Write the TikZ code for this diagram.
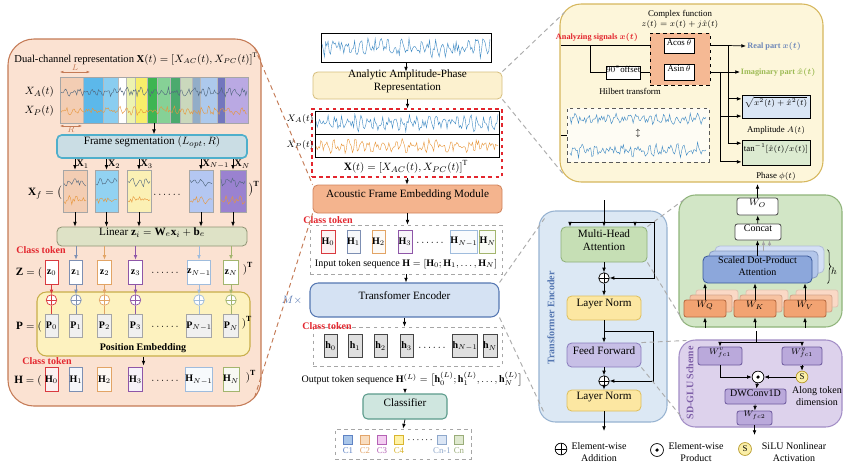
\documentclass[tikz,border=0pt]{standalone}
\usepackage{amsmath,amssymb}
\usepackage{fontspec}
\setmainfont{Liberation Serif}
\usepackage{xcolor}
\usepackage{tikz}
\usetikzlibrary{arrows.meta,positioning,fit,backgrounds,calc,decorations.pathreplacing}
% panels and boxes
\definecolor{lpFill}{HTML}{FBE2D2}\definecolor{lpDraw}{HTML}{C47A55}
\definecolor{segFill}{HTML}{CADDE4}\definecolor{segDraw}{HTML}{4FAFCB}
\definecolor{linFill}{HTML}{DEE2C6}\definecolor{linDraw}{HTML}{8F9474}
\definecolor{peFill}{HTML}{FDF2BF}\definecolor{peDraw}{HTML}{C8AE4A}
\definecolor{clsRed}{HTML}{E3262E}
\definecolor{tkRed}{HTML}{D93A3F}\definecolor{tkBlue}{HTML}{7D8FB3}
\definecolor{tkOrange}{HTML}{E2A465}\definecolor{tkPurple}{HTML}{8E56A8}
\definecolor{tkLBlue}{HTML}{9FBCDD}\definecolor{tkOlive}{HTML}{A3B56E}
\definecolor{apFill}{HTML}{FCF1CF}\definecolor{apDraw}{HTML}{D7BE7E}
\definecolor{afFill}{HTML}{F4B48E}\definecolor{afDraw}{HTML}{D0835B}
\definecolor{teFill}{HTML}{D5E2F3}\definecolor{teDraw}{HTML}{5577B2}
\definecolor{clfFill}{HTML}{CFE6DF}\definecolor{clfDraw}{HTML}{5B9B8B}
\definecolor{ypFill}{HTML}{FDF6DA}\definecolor{ypDraw}{HTML}{D6B75D}
\definecolor{hbFill}{HTML}{F5B994}
\definecolor{ampFill}{HTML}{DAE6F5}\definecolor{phFill}{HTML}{DCEBD1}
\definecolor{realC}{HTML}{6C86B8}\definecolor{imagC}{HTML}{9DBB55}
\definecolor{encFill}{HTML}{DCE8F4}\definecolor{encDraw}{HTML}{97B3D1}
\definecolor{mhaFill}{HTML}{C6DFB5}\definecolor{mhaDraw}{HTML}{8FB07A}
\definecolor{lnFill}{HTML}{FCE7A2}\definecolor{lnDraw}{HTML}{DDBF5E}
\definecolor{ffFill}{HTML}{C7BFE6}\definecolor{ffDraw}{HTML}{8A7DBD}
\definecolor{gpFill}{HTML}{D2E6C6}\definecolor{gpDraw}{HTML}{8FB47A}
\definecolor{sdFill}{HTML}{8CA7DB}\definecolor{sdDraw}{HTML}{3B5A9A}
\definecolor{sdBa}{HTML}{B3C6EA}\definecolor{sdBb}{HTML}{D5E0F5}
\definecolor{wFill}{HTML}{F2A372}\definecolor{wDraw}{HTML}{B7693F}
\definecolor{wBa}{HTML}{F7C3A2}\definecolor{wBb}{HTML}{FAD9C6}
\definecolor{ppFill}{HTML}{DDD2EC}\definecolor{ppDraw}{HTML}{A28DC6}\definecolor{ppText}{HTML}{7E5FA8}
\definecolor{gluFill}{HTML}{BAA9DB}\definecolor{gluDraw}{HTML}{6E5A9E}
\definecolor{siluFill}{HTML}{FBEFA8}\definecolor{siluDraw}{HTML}{B79A2B}
\definecolor{sigBlue}{HTML}{3E8AC4}\definecolor{sigOrange}{HTML}{E8963A}\definecolor{waveDark}{HTML}{51677E}
% bands and frames
\definecolor{bandA}{HTML}{F3CDB3}\definecolor{bandB}{HTML}{5CB8EA}\definecolor{bandC}{HTML}{8ACDF0}
\definecolor{bandD}{HTML}{FFFFFF}\definecolor{bandE}{HTML}{EDF3B0}\definecolor{bandF}{HTML}{F8EE6A}
\definecolor{bandG}{HTML}{3DB552}\definecolor{bandH}{HTML}{86D196}\definecolor{bandI}{HTML}{4BAA6E}
\definecolor{bandJ}{HTML}{CAD8BC}\definecolor{bandK}{HTML}{92ADC8}\definecolor{bandL}{HTML}{ADC9EC}
\definecolor{bandM}{HTML}{7276BE}\definecolor{bandN}{HTML}{BAA9E3}
\definecolor{frA}{HTML}{F3CDB3}\definecolor{frB}{HTML}{92D2F2}\definecolor{frC}{HTML}{FBF0B4}
\definecolor{frD}{HTML}{B4C7F2}\definecolor{frE}{HTML}{9A82D0}
% class squares
\definecolor{cAf}{HTML}{A9C6EA}\definecolor{cAd}{HTML}{5F83C4}
\definecolor{cBf}{HTML}{F9DDBF}\definecolor{cBd}{HTML}{E2A56B}
\definecolor{cCf}{HTML}{F3CDF1}\definecolor{cCd}{HTML}{B562B5}
\definecolor{cDf}{HTML}{FFF2A6}\definecolor{cDd}{HTML}{D9B52F}
\definecolor{cEf}{HTML}{DBE6F5}\definecolor{cEd}{HTML}{8FA8CB}
\definecolor{cFf}{HTML}{DFE9CF}\definecolor{cFd}{HTML}{9AAD7A}
\newcommand\fmain{\fontsize{9.5}{11}\selectfont}
\newcommand\fsmall{\fontsize{8.5}{10}\selectfont}
\newcommand\ftiny{\fontsize{7.5}{8.5}\selectfont}
\newcommand\fmini{\fontsize{7}{8}\selectfont}
% noisy signal: from, to, middle, amplitude, colour
\newcommand\noisewave[5]{%
  \pgfmathtruncatemacro\nsmp{((#2)-(#1))/1.2}%
  \draw[#5,line width=0.35pt] plot[domain=#1:#2,samples=\nsmp] (\x,{#3+#4*(0.6*rand+0.4*sin(53*(\x-(#1))))});}
\tikzset{
  panel/.style={draw,rounded corners=14pt,inner sep=0pt,line width=0.9pt},
  fbox/.style={draw,rounded corners=4pt,inner sep=0pt,align=center,font=\fmain,line width=0.7pt},
  wbox/.style={fbox,rounded corners=2pt,font=\fsmall},
  tok/.style={draw,inner sep=0pt,font=\fsmall,line width=0.7pt,fill=white},
  dbox/.style={draw=gray!70,dashed,inner sep=0pt,line width=0.7pt},
  oplus/.style={circle,draw=#1,fill=white,minimum size=9pt,inner sep=0pt,line width=0.6pt,
    path picture={\draw[#1,line width=0.6pt] (path picture bounding box.north)--(path picture bounding box.south)
      (path picture bounding box.west)--(path picture bounding box.east);}},
  oplus/.default=black,
  odot/.style={circle,draw,fill=white,minimum size=10pt,inner sep=0pt,line width=0.6pt,
    path picture={\fill[black] (path picture bounding box.center) circle (1.5pt);}},
  silu/.style={circle,draw=siluDraw,fill=siluFill,minimum size=10pt,inner sep=0pt,font=\ftiny,line width=0.6pt},
  aflow/.style={-{Latex[length=1.4mm,width=1.1mm]},line width=0.6pt},
  pline/.style={line width=0.6pt},
  zoomln/.style={draw=gray!65,line width=0.8pt,dash pattern=on 4pt off 3pt},
  clstxt/.style={text=clsRed,font=\fsmall\bfseries,inner sep=0pt},
}

\begin{document}
\begin{tikzpicture}[x=0.85pt,y=-0.85pt]
\pgfmathsetseed{11}
\fill[white] (0,0) rectangle (851,468);
\useasboundingbox (0,0) rectangle (851,468);

% ---------- left panel: acoustic frame embedding
\node[panel,fill=lpFill,draw=lpDraw,rounded corners=22pt,fit={(8,39)(261,406)}] (lp) {};
\node[font=\fontsize{9}{10}\selectfont] (dtitle) at (136,59) {Dual-channel representation $\mathbf{X}(t)=[X_{AC}(t),X_{PC}(t)]^{\mathrm{T}}$};
\foreach \xa/\xb/\cl in {60/83/bandA,83/103/bandB,103/118/bandC,118/126/bandD,126/135/bandE,135/147/bandF,147/157/bandG,
  157/170/bandH,170/180/bandI,180/192/bandJ,192/200/bandK,200/217/bandL,217/225/bandM,225/248/bandN}
  \fill[\cl] (\xa,77) rectangle (\xb,123);
\foreach \xs in {83,103,118,126,135,147,157,170,180,192,200,217,225}
  \draw[gray!55,line width=0.3pt] (\xs,77) -- (\xs,123);
\noisewave{61}{247}{92}{5}{waveDark}
\noisewave{61}{247}{111}{5}{sigOrange}
\node[draw=gray!70,line width=0.6pt,inner sep=0pt,fit={(60,77)(248,123)}] (strip) {};
\coordinate (lLa) at (60,72); \coordinate (lLb) at (90,72);
\coordinate (lRa) at (60,126); \coordinate (lRb) at (82,126);
\draw[{Latex[length=1mm]}-{Latex[length=1mm]},lpDraw,line width=0.4pt] (lLa) -- (lLb) node[midway,above,inner sep=1pt,font=\ftiny,text=lpDraw] {$L$};
\draw[{Latex[length=1mm]}-{Latex[length=1mm]},lpDraw,line width=0.4pt] (lRa) -- (lRb) node[midway,below,inner sep=0.5pt,font=\ftiny,text=lpDraw] {$R$};
\node[font=\fmain,anchor=east] (xal) at (58,92) {$X_A(t)$};
\node[font=\fmain,anchor=east] (xpl) at (58,111) {$X_P(t)$};

\node[fbox,fill=segFill,draw=segDraw,line width=1.4pt,fit={(57,135)(247,158)}] (seg) {Frame segmentation $(L_{opt},R)$};
\draw[aflow] (strip.south) -- (strip.south |- seg.north);

\node[fbox,fill=linFill,draw=linDraw,fit={(57,227)(247,246)}] (lin) {Linear $\mathbf{z}_i=\mathbf{W}_e\mathbf{x}_i+\mathbf{b}_e$};
\foreach \nm/\xa/\xb/\cl/\ix in {1/63/87/frA/1,2/95/118/frB/2,3/127/151/frC/3,m/189/213/frD/{N-1},n/220/246/frE/N} {
  \node[draw=gray!70,fill=\cl,inner sep=0pt,fit={(\xa,170)(\xb,212)}] (fr\nm) {};
  \noisewave{\xa+1}{\xb-1}{182}{5}{waveDark}
  \noisewave{\xa+1}{\xb-1}{200}{5}{sigOrange}
  \draw[aflow] (seg.south -| fr\nm) -- (fr\nm.north) node[midway,right,inner sep=1pt,font=\fsmall] {$\mathbf{X}_{\ix}$};
  \draw[aflow] (fr\nm.south) -- (fr\nm.south |- lin.north);
}
\node[font=\fmain] (xfeq) at (45,193) {$\mathbf{X}_f=\big($};
\node[font=\fmain] (xfdots) at (168,195) {$\cdots\cdots$};
\node[font=\fmain] (xfend) at (254,189) {$\big)^{\mathbf{T}}$};

\node[clstxt] (clsa) at (41,250) {Class token};
\node[fbox,fill=peFill,draw=peDraw,line width=0.9pt,rounded corners=8pt,fit={(37,292)(250,356)}] (pe) {};
\node[font=\fsmall\bfseries] (pelbl) at (143,348) {Position Embedding};
\foreach \nm/\xc/\tw/\cl/\ix in {0/51.5/11pt/tkRed/0,1/76/11pt/tkBlue/1,2/104.5/12pt/tkOrange/2,
  3/135.5/12pt/tkPurple/3,m/199/19pt/tkLBlue/{N-1},n/231/13pt/tkOlive/N} {
  \node[tok,draw=\cl,minimum width=\tw,minimum height=21pt] (z\nm) at (\xc,272.5) {$\mathbf{z}_{\ix}$};
  \node[oplus=\cl] (ps\nm) at (\xc,300) {};
  \node[tok,fill=gray!12,draw=gray!70,minimum width=\tw,minimum height=20pt] (p\nm) at (\xc,326) {$\mathbf{P}_{\ix}$};
  \node[tok,draw=\cl,fill=\cl!8,minimum width=\tw,minimum height=21pt] (hl\nm) at (\xc,379.5) {$\mathbf{H}_{\ix}$};
  \draw[aflow,\cl] (z\nm) -- (ps\nm);
  \draw[pline,\cl] (p\nm) -- (ps\nm);
}
\foreach \nm/\cl in {1/tkBlue,2/tkOrange,3/tkPurple,m/tkLBlue,n/tkOlive}
  \draw[aflow,\cl] (lin.south -| z\nm) -- (z\nm.north);
\node[font=\fmain] (zeq) at (29,273) {$\mathbf{Z}=($};
\node[font=\fmain] (zdots) at (166,273) {$\cdots\cdots$};
\node[font=\fmain] (zend) at (248,269) {$)^{\mathbf{T}}$};
\node[font=\fmain] (peq) at (29,327) {$\mathbf{P}=($};
\node[font=\fmain] (pdots) at (166,327) {$\cdots\cdots$};
\node[font=\fmain] (pend) at (247,323) {$)^{\mathbf{T}}$};
\draw[aflow] (pe.south) -- ++(0,9) coordinate (peout);
\node[clstxt] (clsb) at (47,361) {Class token};
\node[font=\fmain] (heq) at (28,381) {$\mathbf{H}=($};
\node[font=\fmain] (hdots) at (166,381) {$\cdots\cdots$};
\node[font=\fmain] (hend) at (251,377) {$)^{\mathbf{T}}$};

% ---------- middle column
\node[draw,line width=0.8pt,inner sep=0pt,fit={(321,33)(491,62)}] (sig) {};
\noisewave{322}{490}{47.5}{11}{sigBlue}
\node[fbox,fill=apFill,draw=apDraw,fit={(313,72)(502,99)}] (ap) {Analytic Amplitude-Phase\\Representation};
\node[draw=clsRed,dashed,line width=0.9pt,inner sep=0pt,fit={(312,109)(502,177)}] (xbox) {};
\node[draw,line width=0.8pt,inner sep=0pt,fit={(315,111)(499,157)}] (xsig) {};
\draw[pline] (xsig.west) -- (xsig.east);
\noisewave{316}{498}{123}{9}{sigBlue}
\noisewave{316}{498}{146}{8}{sigOrange}
\node[font=\fmain] (xform) at (406,167) {$\mathbf{X}(t)=[X_{AC}(t),X_{PC}(t)]^{\mathrm{T}}$};
\node[font=\fsmall,anchor=east,inner sep=1pt] (xalm) at (315,119) {$X_A(t)$};
\node[font=\fsmall,anchor=east,inner sep=1pt] (xplm) at (315,145) {$X_P(t)$};
\node[fbox,fill=afFill,draw=afDraw,fit={(313,185)(502,213)}] (afem) {Acoustic Frame Embedding Module};
\draw[aflow] (sig.south) -- (sig.south |- ap.north);
\draw[aflow] (ap.south) -- (ap.south |- xbox.north);
\draw[aflow] (xbox.south) -- (xbox.south |- afem.north);

\node[dbox,fit={(310,225)(502,274)}] (inbox) {};
\node[clstxt] (clsc) at (328,220) {Class token};
\foreach \nm/\xc/\tw/\cl/\ix in {0/328/12pt/tkRed/0,1/353.5/11pt/tkBlue/1,2/378.5/11pt/tkOrange/2,
  3/405/12pt/tkPurple/3,m/464/19pt/tkLBlue/{N-1},n/487.5/13pt/tkOlive/N}
  \node[tok,draw=\cl,fill=\cl!6,minimum width=\tw,minimum height=19.5pt] (hi\nm) at (\xc,241.5) {$\mathbf{H}_{\ix}$};
\node[font=\fmain] (hidots) at (431,243) {$\cdots\cdots$};
\node[font=\fsmall] (intext) at (406,264) {Input token sequence $\mathbf{H}=[\mathbf{H}_0;\mathbf{H}_1,\ldots,\mathbf{H}_N]$};
\draw[aflow] (afem.south) -- (afem.south |- inbox.north);

\node[fbox,fill=teFill,draw=teDraw,line width=0.9pt,rounded corners=7pt,fit={(310,283)(499,317)}] (te) {Transfomer Encoder};
\node[font=\fmain,text=teDraw] (mx) at (292,300) {$M\times$};
\draw[aflow] (inbox.south) -- (inbox.south |- te.north);

\node[dbox,fit={(313,327)(502,366)}] (outbox) {};
\node[clstxt] (clsd) at (327,326) {Class token};
\foreach \nm/\xc/\tw/\ix in {0/330.5/11pt/0,1/355/12pt/1,2/380.5/11pt/2,3/406.5/11pt/3,m/465/19pt/{N-1},n/490/12pt/N}
  \node[tok,fill=gray!25,draw=gray!55!black,minimum width=\tw,minimum height=20pt] (ho\nm) at (\xc,346) {$\mathbf{h}_{\ix}$};
\node[font=\fmain] (hodots) at (433,348) {$\cdots\cdots$};
\draw[aflow] (te.south) -- (te.south |- outbox.north);
\node[font=\fsmall] (outtext) at (412,379) {Output token sequence $\mathbf{H}^{(L)}=\big[\mathbf{h}_0^{(L)};\mathbf{h}_1^{(L)},\ldots,\mathbf{h}_N^{(L)}\big]$};
\node[fbox,fill=clfFill,draw=clfDraw,line width=0.9pt,fit={(363,394)(447,419)}] (clf) {Classifier};
\draw[aflow] (outtext.south -| clf.north) -- (clf.north);
\node[dbox,fit={(335,429)(471,459)}] (clsbox) {};
\draw[aflow] (clf.south) -- (clsbox.north);
\foreach \nm/\xc/\fc/\dc/\lb in {1/348/cAf/cAd/C1,2/365/cBf/cBd/C2,3/382/cCf/cCd/C3,4/399/cDf/cDd/C4,m/442/cEf/cEd/Cn-1,n/459/cFf/cFd/Cn} {
  \node[draw=\dc,fill=\fc,minimum size=8pt,inner sep=0pt] (cq\nm) at (\xc,439.5) {};
  \node[font=\ftiny,text=\dc,inner sep=0pt] (cl\nm) at (\xc,451) {\lb};
}
\node[font=\fsmall] (cdots) at (421,440) {$\cdots\cdots$};

% ---------- top right: amplitude-phase representation
\node[panel,fill=ypFill,draw=ypDraw,rounded corners=18pt,fit={(560,4)(823,182)}] (yp) {};
\node[font=\ftiny] (cplx) at (680,14) {Complex function};
\node[font=\ftiny] (cplxf) at (680,24.5) {$z(t)=x(t)+j\hat{x}(t)$};
\node[font=\fmini\bfseries,text=clsRed] (anl) at (597,37) {Analyzing signals $\boldsymbol{x(t)}$};
\node[draw,dashed,fill=hbFill,line width=0.8pt,inner sep=0pt,fit={(650,33)(710,85)}] (hbox) {};
\node[draw,fill=white,inner sep=0pt,font=\ftiny,fit={(664,38)(694,53)}] (acos) {A$\cos\theta$};
\node[draw,fill=white,inner sep=0pt,font=\ftiny,fit={(664,64)(694,80)}] (asin) {A$\sin\theta$};
\node[draw,fill=white,inner sep=0pt,font=\ftiny,fit={(606,66)(640,79)}] (off) {$90^{\circ}$offset};
\node[font=\ftiny] (hilb) at (630,91) {Hilbert transform};
\coordinate (ain) at (561,45.5); \coordinate (abr) at (590,45.5);
\draw[pline] (ain) -- (acos.west -| hbox.west);
\draw[pline] (abr) |- (off.west);
\draw[pline] (off.east) -- (off.east -| hbox.west);
\node[font=\fmini\bfseries,text=realC,anchor=west,inner sep=1pt] (real) at (746,46) {Real part $\boldsymbol{x(t)}$};
\node[font=\fmini\bfseries,text=imagC,anchor=west,inner sep=0.5pt] (imag) at (740,72) {Imaginary part $\boldsymbol{\hat{x}(t)}$};
\node[draw,fill=ampFill,line width=0.8pt,inner sep=0pt,font=\ftiny,fit={(742,95)(810,118)}] (amp) {$\sqrt{x^2(t)+\hat{x}^2(t)}$};
\node[font=\ftiny] (ampl) at (776,130) {Amplitude $A(t)$};
\node[draw,fill=phFill,line width=0.8pt,inner sep=0pt,font=\ftiny,fit={(742,140)(810,165)}] (phase) {$\tan^{-1}[\hat{x}(t)/x(t)]$};
\node[font=\ftiny] (phl) at (776,176) {Phase $\phi(t)$};
\coordinate (ja) at (728,45.5); \coordinate (jb) at (720,72);
\coordinate (amA) at ($(amp.north west)!0.18!(amp.south west)$);
\coordinate (amB) at ($(amp.north west)!0.9!(amp.south west)$);
\coordinate (phA) at ($(phase.north west)!0.14!(phase.south west)$);
\coordinate (phB) at ($(phase.north west)!0.86!(phase.south west)$);
\draw[pline] (acos.east -| hbox.east) -- (ja);
\draw[pline] (asin.east -| hbox.east) -- (jb);
\draw[aflow] (ja) -- (real.west);
\draw[aflow] (jb) -- (imag.west);
\draw[aflow] (ja) |- (phA);
\draw[aflow] (jb) |- (phB);
\draw[aflow] (amA -| ja) -- (amA);
\draw[aflow] (amB -| jb) -- (amB);
\node[draw=gray!70!black,dashed,fill=white!70!ypFill,line width=0.7pt,inner sep=0pt,fit={(567,108)(709,162)}] (sbox) {};
\noisewave{570}{706}{119}{6}{sigBlue}
\noisewave{570}{706}{150}{8}{sigBlue}
\node[font=\ftiny,inner sep=0pt] (sarr) at (638,133) {$\updownarrow$};
\coordinate (sin) at (561,135);
\draw[pline] (sin) -- (sbox.west);

% ---------- transformer encoder
\node[panel,fill=encFill,draw=encDraw,fit={(539,211)(667,422)}] (encp) {};
\node[rotate=90,font=\fsmall\bfseries,text=teDraw] (enclbl) at (551,318) {Transformer Encoder};
\node[fbox,fill=mhaFill,draw=mhaDraw,fit={(561,227)(647,262)}] (mha) {Multi-Head\\Attention};
\node[oplus] (add1) at (604,278) {};
\node[fbox,fill=lnFill,draw=lnDraw,fit={(567,296)(641,320)}] (ln1) {Layer Norm};
\node[fbox,fill=ffFill,draw=ffDraw,fit={(567,343)(641,367)}] (ff) {Feed Forward};
\node[oplus] (add2) at (604,381) {};
\node[fbox,fill=lnFill,draw=lnDraw,fit={(567,390)(641,411)}] (ln2) {Layer Norm};
\coordinate (encin) at (604,200); \coordinate (encbr) at (604,222);
\coordinate (brl) at (570,222); \coordinate (brm) at (635,222); \coordinate (brr) at (654,222);
\draw[pline] (encin) -- (encbr);
\draw[pline] (brl) -- (brr);
\draw[aflow] (brl) -- (brl |- mha.north);
\draw[aflow] (encbr) -- (mha.north);
\draw[aflow] (brm) -- (brm |- mha.north);
\draw[aflow] (brr) |- (add1.east);
\draw[aflow] (mha) -- (add1);
\draw[aflow] (add1) -- (ln1);
\draw[aflow] (ln1) -- (ff);
\coordinate (rsa) at (604,331); \coordinate (rsb) at (653,331);
\draw[pline] (rsa) -- (rsb);
\draw[aflow] (rsb) |- (add2.east);
\draw[aflow] (ff) -- (add2);
\draw[aflow] (add2) -- (ln2);
\coordinate (encout) at (604,431);
\draw[aflow] (ln2) -- (encout);

% ---------- multi-head attention detail
\node[panel,fill=gpFill,draw=gpDraw,fit={(679,195)(842,327)}] (gp) {};
\node[wbox,fill=white,draw=gray!60!black,fit={(737,198)(778,215)}] (wo) {$W_O$};
\node[wbox,fill=white,draw=gray!60!black,fit={(735,224)(781,240)}] (cat) {Concat};
\node[fbox,fill=sdBb,draw=sdDraw!40,fit={(715,246)(824,273)}] (sdb) {};
\node[fbox,fill=sdBa,draw=sdDraw!60,fit={(709,251)(818,278)}] (sda) {};
\node[fbox,fill=sdFill,draw=sdDraw,font=\fsmall,fit={(703,256)(812,283)}] (sdpa) {Scaled Dot-Product\\Attention};
\draw[decorate,decoration={brace,amplitude=3pt},line width=0.5pt] ($(sdb.north east)+(3,4)$) -- ($(sdb.north east |- sdpa.south)+(3,0)$);
\node[font=\fsmall] (hlbl) at (834,271) {$h$};
\draw[aflow,gray!70] (sdb.north) -- (sdb.north |- cat.south);
\draw[aflow,gray!70] (sda.north) -- (sda.north |- cat.south);
\draw[aflow] (sdpa.north) -- (sdpa.north |- cat.south);
\draw[aflow] (cat) -- (wo);
\coordinate (gout) at (757.5,184);
\draw[aflow] (wo) -- (gout);
\foreach \nm/\xa/\lb in {q/684/Q,k/734/K,v/784/V} {
  \node[wbox,fill=wBb,draw=wDraw!40,fit={(\xa+12,290)(\xa+54,307)}] (w\nm b) {};
  \node[wbox,fill=wBa,draw=wDraw!60,fit={(\xa+6,295)(\xa+48,312)}] (w\nm a) {};
  \node[wbox,fill=wFill,draw=wDraw,fit={(\xa,300)(\xa+42,317)}] (w\nm) {$W_{\lb}$};
  \coordinate (w\nm in) at (\xa+21,328);
  \draw[aflow] (w\nm in) -- (w\nm);
  \draw[aflow] (w\nm) -- (w\nm |- sdpa.south);
}

% ---------- SD-GLU detail
\node[panel,fill=ppFill,draw=ppDraw,fit={(679,340)(842,427)}] (pp) {};
\node[rotate=90,font=\fsmall\bfseries,text=ppText] (glulbl) at (690,383) {SD-GLU Scheme};
\node[wbox,fill=gluFill,draw=gluDraw,font=\ftiny,fit={(698,347)(742,365)}] (wu) {$W_{fc1}^{v}$};
\node[wbox,fill=gluFill,draw=gluDraw,font=\ftiny,fit={(782,347)(822,365)}] (wg) {$W_{fc1}^{g}$};
\node[silu] (sl) at (802,377) {S};
\node[odot] (pr) at (758,377) {};
\node[wbox,fill=gluFill,draw=gluDraw,fit={(725,389)(786,404)}] (dw) {DWConv1D};
\node[font=\fsmall,align=center] (along) at (817,396) {Along token\\dimension};
\node[wbox,fill=gluFill,draw=gluDraw,font=\ftiny,fit={(737,411)(772,425)}] (wf2) {$W_{fc2}$};
\coordinate (gin) at (756,331); \coordinate (gbr) at (756,342);
\coordinate (gl) at (720,342); \coordinate (gr) at (802,342);
\draw[pline] (gin) -- (gbr);
\draw[pline] (gl) -- (gr);
\draw[aflow] (gl) -- (wu);
\draw[aflow] (gr) -- (wg);
\draw[aflow] (wg) -- (sl);
\draw[aflow] (sl) -- (pr);
\draw[aflow] (wu) |- (pr);
\draw[aflow] (pr) -- (dw);
\draw[aflow] (dw) -- (wf2);
\coordinate (gout2) at (754.5,435);
\draw[aflow] (wf2) -- (gout2);

% ---------- dashed zoom links
\draw[zoomln,draw=lpDraw] ($(lp.north east)+(-7,9)$) -- (afem.north west);
\draw[zoomln,draw=lpDraw] ($(lp.south east)+(-7,-9)$) -- (afem.south west);
\draw[zoomln] (ap.north east) -- ($(yp.north west)+(5,9)$);
\draw[zoomln] (ap.south east) -- ($(yp.south west)+(5,-7)$);
\draw[zoomln] (te.north east) -- ($(encp.north west)+(6,8)$);
\draw[zoomln] (te.south east) -- ($(encp.south west)+(6,-9)$);
\draw[zoomln] (mha.north east) -- ($(gp.north west)+(7,4)$);
\draw[zoomln] (mha.south east) -- ($(gp.south west)+(5,-6)$);
\draw[zoomln] (ff.north east) -- ($(pp.north west)+(8,1)$);
\draw[zoomln] (ff.south east) -- ($(pp.south west)+(5,-8)$);

% ---------- legend
\node[oplus,minimum size=10pt] (lga) at (561,449) {};
\node[font=\fsmall,align=center] (lgat) at (599,452) {Element-wise\\Addition};
\node[odot,minimum size=11pt] (lgb) at (657,450) {};
\node[font=\fsmall,align=center] (lgbt) at (696,452) {Element-wise\\Product};
\node[silu,minimum size=11pt] (lgc) at (745,449) {S};
\node[font=\fsmall,align=center] (lgct) at (794,452) {SiLU Nonlinear\\Activation};
\end{tikzpicture}
\end{document}
